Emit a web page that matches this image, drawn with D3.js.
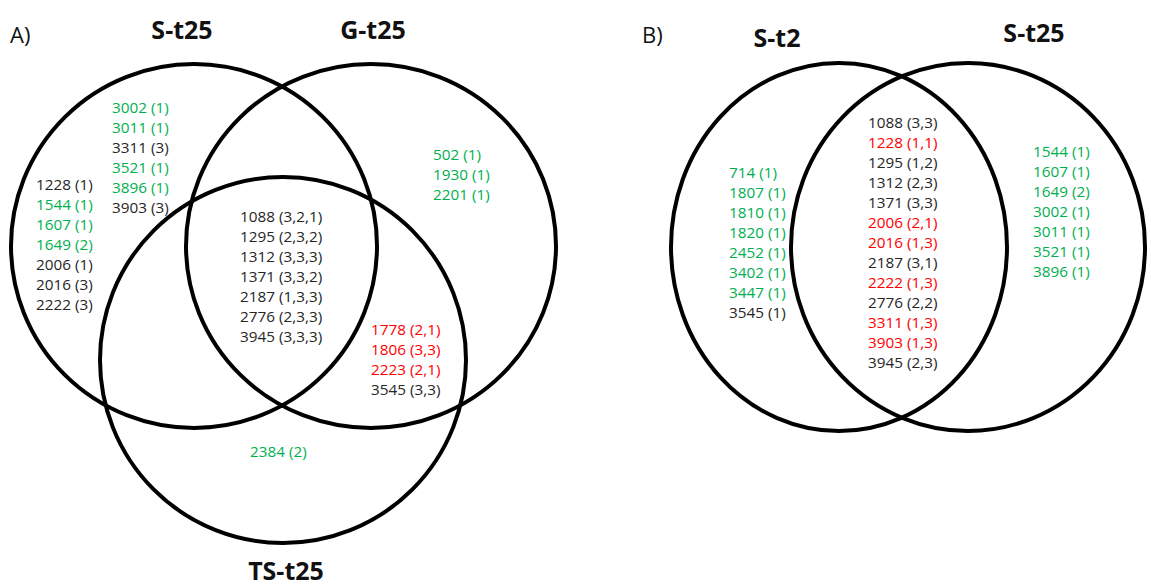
<!DOCTYPE html>
<html>
<head>
<meta charset="utf-8">
<script src="https://cdn.jsdelivr.net/npm/d3@7"></script>
<style>
  html, body { margin: 0; padding: 0; background: #fff; }
  svg { display: block; }
</style>
</head>
<body>
<svg id="chart" width="1151" height="587"></svg>
<script>
// ---- Data ---------------------------------------------------------------
// Each entry: spot id with its fold-change classes, and its regulation tone.
const setsA = ["S-t25", "G-t25", "TS-t25"];
const setsB = ["S-t2", "S-t25"];

// Panel A regions
const aOnlyS_upper = [["3002 (1)", "up"], ["3011 (1)", "up"], ["3311 (3)", "mixed"],
                      ["3521 (1)", "up"], ["3896 (1)", "up"], ["3903 (3)", "mixed"]];
const aOnlyS_left  = [["1228 (1)", "mixed"], ["1544 (1)", "up"], ["1607 (1)", "up"],
                      ["1649 (2)", "up"], ["2006 (1)", "mixed"], ["2016 (3)", "mixed"],
                      ["2222 (3)", "mixed"]];
const aOnlyG       = [["502 (1)", "up"], ["1930 (1)", "up"], ["2201 (1)", "up"]];
const aAllThree    = [["1088 (3,2,1)", "mixed"], ["1295 (2,3,2)", "mixed"], ["1312 (3,3,3)", "mixed"],
                      ["1371 (3,3,2)", "mixed"], ["2187 (1,3,3)", "mixed"], ["2776 (2,3,3)", "mixed"],
                      ["3945 (3,3,3)", "mixed"]];
const aGandTS      = [["1778 (2,1)", "down"], ["1806 (3,3)", "down"], ["2223 (2,1)", "down"],
                      ["3545 (3,3)", "mixed"]];
const aOnlyTS      = [["2384 (2)", "up"]];

// Panel B regions
const bOnlyT2   = [["714 (1)", "up"], ["1807 (1)", "up"], ["1810 (1)", "up"], ["1820 (1)", "up"],
                   ["2452 (1)", "up"], ["3402 (1)", "up"], ["3447 (1)", "up"], ["3545 (1)", "mixed"]];
const bShared   = [["1088 (3,3)", "mixed"], ["1228 (1,1)", "down"], ["1295 (1,2)", "mixed"],
                   ["1312 (2,3)", "mixed"], ["1371 (3,3)", "mixed"], ["2006 (2,1)", "down"],
                   ["2016 (1,3)", "down"], ["2187 (3,1)", "mixed"], ["2222 (1,3)", "down"],
                   ["2776 (2,2)", "mixed"], ["3311 (1,3)", "down"], ["3903 (1,3)", "down"],
                   ["3945 (2,3)", "mixed"]];
const bOnlyT25  = [["1544 (1)", "up"], ["1607 (1)", "up"], ["1649 (2)", "up"], ["3002 (1)", "up"],
                   ["3011 (1)", "up"], ["3521 (1)", "up"], ["3896 (1)", "up"]];

// ---- Styling / layout ---------------------------------------------------
const toneColor = d3.scaleOrdinal()
  .domain(["up", "down", "mixed"])
  .range(["#00b050", "#ff0000", "#262626"]);

const LINE = 20;           // row spacing of the spot lists
const LIST_FONT = "'Open Sans', 'Noto Sans', sans-serif";
const TITLE_FONT = "'Open Sans', 'Noto Sans', sans-serif";

const svg = d3.select("#chart");
svg.append("rect").attr("width", 1151).attr("height", 587).attr("fill", "#fff");

function drawPanel(p) {
  const g = svg.append("g");

  // set outlines
  g.selectAll("ellipse")
    .data(p.circles)
    .join("ellipse")
    .attr("cx", d => d.cx)
    .attr("cy", d => d.cy)
    .attr("rx", d => d.rx)
    .attr("ry", d => d.ry)
    .attr("fill", "none")
    .attr("stroke", "#000")
    .attr("stroke-width", 4);

  // panel letter
  g.append("text")
    .attr("x", p.letter.x).attr("y", p.letter.y)
    .attr("font-family", TITLE_FONT)
    .attr("font-size", 22)
    .attr("fill", "#111")
    .text(p.letter.text);

  // set names
  g.selectAll("text.set")
    .data(p.titles)
    .join("text")
    .attr("class", "set")
    .attr("x", d => d.x).attr("y", d => d.y)
    .attr("text-anchor", "middle")
    .attr("font-family", TITLE_FONT)
    .attr("font-weight", 700)
    .attr("font-size", 25)
    .attr("fill", "#111")
    .text(d => d.name);

  // spot lists per region
  p.blocks.forEach(b => {
    const row = d3.scaleLinear().domain([0, 1]).range([b.y, b.y + LINE]);
    g.append("g")
      .selectAll("text")
      .data(b.items)
      .join("text")
      .attr("x", b.x)
      .attr("y", (d, i) => row(i))
      .attr("dy", "0.35em")
      .attr("font-family", LIST_FONT)
      .attr("font-size", 15.3)
      .attr("fill", d => toneColor(d[1]))
      .text(d => d[0]);
  });
}

drawPanel({
  letter: { text: "A)", x: 10, y: 43 },
  titles: [
    { name: setsA[0], x: 182, y: 39 },
    { name: setsA[1], x: 373, y: 39 },
    { name: setsA[2], x: 286, y: 580 }
  ],
  circles: [
    { cx: 194, cy: 246, rx: 183, ry: 182 },
    { cx: 371, cy: 246, rx: 185, ry: 182 },
    { cx: 283, cy: 360, rx: 183, ry: 183 }
  ],
  blocks: [
    { items: aOnlyS_upper, x: 112, y: 108 },
    { items: aOnlyS_left,  x: 36,  y: 185 },
    { items: aOnlyG,       x: 433, y: 155 },
    { items: aAllThree,    x: 240, y: 217 },
    { items: aGandTS,      x: 371, y: 330 },
    { items: aOnlyTS,      x: 250, y: 452 }
  ]
});

drawPanel({
  letter: { text: "B)", x: 642, y: 43 },
  titles: [
    { name: setsB[0], x: 777, y: 47 },
    { name: setsB[1], x: 1034, y: 42 }
  ],
  circles: [
    { cx: 839, cy: 247, rx: 168, ry: 184 },
    { cx: 968, cy: 247, rx: 177, ry: 184 }
  ],
  blocks: [
    { items: bOnlyT2,  x: 729,  y: 173 },
    { items: bShared,  x: 868,  y: 123 },
    { items: bOnlyT25, x: 1033, y: 152 }
  ]
});
</script>
</body>
</html>
